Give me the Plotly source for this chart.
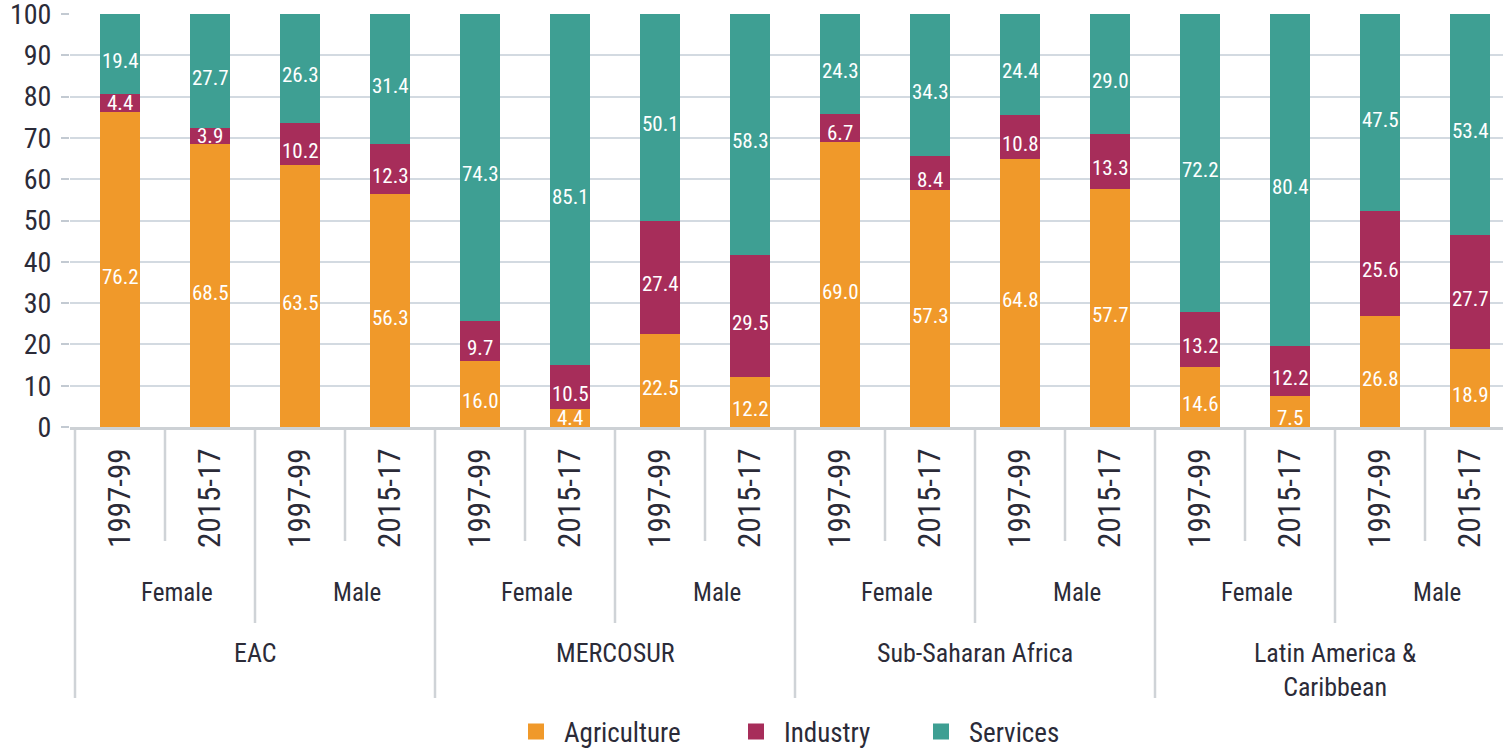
import plotly.graph_objects as go

# ---- data ----
regions = ["EAC", "MERCOSUR", "Sub-Saharan Africa", "Latin America &<br>Caribbean"]
genders = ["Female", "Male"]
periods = ["1997-99", "2015-17"]

agriculture = [76.2, 68.5, 63.5, 56.3, 16.0, 4.4, 22.5, 12.2, 69.0, 57.3, 64.8, 57.7, 14.6, 7.5, 26.8, 18.9]
industry = [4.4, 3.9, 10.2, 12.3, 9.7, 10.5, 27.4, 29.5, 6.7, 8.4, 10.8, 13.3, 13.2, 12.2, 25.6, 27.7]
services = [19.4, 27.7, 26.3, 31.4, 74.3, 85.1, 50.1, 58.3, 24.3, 34.3, 24.4, 29.0, 72.2, 80.4, 47.5, 53.4]

series_names = ["Agriculture", "Industry", "Services"]
colors = ["#F0992A", "#A72D5A", "#3E9F93"]

FONT = "Liberation Sans Narrow, Roboto Condensed, DejaVu Sans Condensed, Arial Narrow, sans-serif"
TXT = "#2b2b38"
SEP = "#cfd3d7"

n = len(regions) * len(genders) * len(periods)
idx = list(range(n))
tick_text = [periods[i % 2] for i in idx]

W, H = 1503, 750
plot_top, plot_bot = 14, 427
plot_left = 70
ML, MR, MT, MB = plot_left, 0, plot_top, H - plot_bot
plot_h = plot_bot - plot_top
plot_w = W - ML - MR
px_per_unit = plot_h / 100.0
x0_px = 120.0   # pixel centre of first bar
slot_px = 90.0

def py(pix):
    """pixel row -> paper y"""
    return (plot_bot - pix) / plot_h

def px(pix):
    return (pix - ML) / plot_w

fig = go.Figure()
series = [agriculture, industry, services]
for name, vals, col in zip(series_names, series, colors):
    fig.add_trace(go.Bar(x=idx, y=vals, name=name, marker=dict(color=col, line=dict(width=0)),
                         width=0.45, showlegend=False, hoverinfo="y+name"))

# legend entries, one small legend per series so spacing follows the reference
legend_ids = ["legend", "legend2", "legend3"]
legend_left_px = [508, 728, 913]
for name, col, lid in zip(series_names, colors, legend_ids):
    fig.add_trace(go.Scatter(x=[None], y=[None], mode="markers", name=name, legend=lid,
                             marker=dict(symbol="square", size=16, color=col)))

annotations = []
# value labels
for i in idx:
    base = 0.0
    for vals in series:
        v = vals[i]
        hpx = v * px_per_unit
        shift = -max(0.0, min(7.0, (hpx - 18) / 2))
        annotations.append(dict(x=i, y=base + v / 2, xref="x", yref="y", text=f"{v:.1f}",
                                showarrow=False, yshift=shift,
                                font=dict(family=FONT, size=21, color="white")))
        base += v

# gender and region labels
for r in range(len(regions)):
    for g, gname in enumerate(genders):
        annotations.append(dict(x=r * 4 + g * 2 + 0.5, y=py(592), xref="x", yref="paper",
                                text=gname, showarrow=False, xshift=12, yanchor="middle",
                                font=dict(family=FONT, size=25, color=TXT)))
    annotations.append(dict(x=r * 4 + 1.5, y=py(636), xref="x", yref="paper",
                            text=regions[r], showarrow=False, yanchor="top",
                            font=dict(family=FONT, size=26, color=TXT)))

shapes = []
for k in range(n // 2):
    shapes.append(dict(type="line", xref="x", yref="paper", x0=2 * k + 0.5, x1=2 * k + 0.5,
                       y0=py(430), y1=py(541), line=dict(color=SEP, width=2.5)))
for r in range(len(regions)):
    x = 4 * r + 1.5
    shapes.append(dict(type="line", xref="x", yref="paper", x0=x, x1=x,
                       y0=py(430), y1=py(623), line=dict(color=SEP, width=2.5)))
for r in range(len(regions) + 1):
    x = 4 * r - 0.5
    shapes.append(dict(type="line", xref="x", yref="paper", x0=x, x1=x,
                       y0=py(430), y1=py(698), line=dict(color=SEP, width=2.5)))

legend_common = dict(orientation="h", xanchor="left", y=py(732), yanchor="middle",
                     font=dict(family=FONT, size=27, color=TXT), itemwidth=46,
                     bgcolor="rgba(0,0,0,0)")

fig.update_layout(
    width=W, height=H, barmode="stack",
    margin=dict(l=ML, r=MR, t=MT, b=MB, pad=0, autoexpand=False),
    paper_bgcolor="white", plot_bgcolor="white",
    font=dict(family=FONT, color=TXT),
    annotations=annotations, shapes=shapes,
    legend=dict(x=px(legend_left_px[0]), **legend_common),
    legend2=dict(x=px(legend_left_px[1]), **legend_common),
    legend3=dict(x=px(legend_left_px[2]), **legend_common),
    xaxis=dict(range=[(ML - x0_px) / slot_px, (W - MR - x0_px) / slot_px], automargin=False,
               tickmode="array", tickvals=idx, ticktext=tick_text, tickangle=-90,
               tickfont=dict(family=FONT, size=31, color=TXT), ticks="",
               showgrid=False, zeroline=False, showline=True, linecolor="#cdd1d5",
               linewidth=3, ticklabelstandoff=6, ticklabeloverflow="allow"),
    yaxis=dict(range=[0, 100], dtick=10, showgrid=True, gridcolor="#d3dae1", gridwidth=2,
               automargin=False, ticklabeloverflow="allow",
               ticks="outside", ticklen=8, tickwidth=2, tickcolor="#c3cad2",
               tickfont=dict(family=FONT, size=28, color=TXT), zeroline=False,
               showline=False, ticklabelstandoff=4),
)

fig.write_html("out.html", config={"displayModeBar": False},
               post_script="document.body.style.margin='0px';document.body.style.overflow='hidden';")
